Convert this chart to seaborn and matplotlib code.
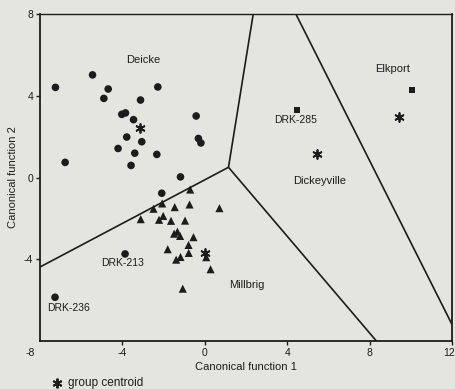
import matplotlib
matplotlib.use("Agg")
import matplotlib.pyplot as plt
from matplotlib.lines import Line2D
from matplotlib.transforms import ScaledTranslation
import numpy as np
import pandas as pd
import seaborn as sns

# Canonical discriminant scores of the samples
deicke_x = [-7.25, -5.45, -4.69, -4.90, -3.12, -2.28, -3.85, -4.03, -3.46, -0.42,
            -0.31, -0.19, -3.79, -3.06, -4.21, -3.40, -2.33, -6.78, -3.58, -1.18,
            -2.09, -3.87, -7.27]
deicke_y = [4.41, 5.02, 4.33, 3.87, 3.79, 4.43, 3.16, 3.09, 2.83, 3.01,
            1.91, 1.69, 1.98, 1.75, 1.42, 1.19, 1.13, 0.74, 0.59, 0.03,
            -0.77, -3.74, -5.86]

millbrig_x = [-0.71, -2.07, -2.49, -1.46, -0.74, 0.71, -3.11, -2.02, -2.22, -1.64,
              -0.96, -1.49, -1.33, -1.20, -0.55, -0.79, -1.80, -0.78, -1.18, -1.39,
              0.28, -1.07, 0.07]
millbrig_y = [-0.59, -1.27, -1.53, -1.45, -1.32, -1.50, -2.04, -1.88, -2.07, -2.12,
              -2.11, -2.75, -2.65, -2.86, -2.92, -3.30, -3.51, -3.69, -3.89, -4.02,
              -4.49, -5.44, -3.90]

square_x = [4.47, 10.06]
square_y = [3.32, 4.27]

# Group centroids: Deicke, Millbrig, Dickeyville, Elkport
centroid_x = [-3.16, 0.0, 5.47, 9.43]
centroid_y = [2.44, -3.71, 1.13, 2.98]

# Territorial map boundaries (start, end)
boundary_x = [[-8.0, 1.15], [1.15, 2.35], [1.15, 8.33], [4.42, 12.0]]
boundary_y = [[-4.38, 0.50], [0.50, 8.0], [0.50, -8.0], [8.0, -7.19]]

group_labels = ["Deicke", "Elkport", "Dickeyville", "Millbrig"]
group_label_x = [-3.0, 9.1, 5.58, 2.05]
group_label_y = [5.75, 5.3, -0.18, -5.26]

sample_labels = ["DRK-285", "DRK-213", "DRK-236"]
sample_label_x = [4.42, -3.97, -6.63]
sample_label_y = [2.83, -4.2, -6.4]

x_ticks = [-8, -4, 0, 4, 8, 12]
y_ticks = [-4, 0, 4, 8]

bg = "#e4e5df"
ink = "#1c1c1c"

sns.set_theme(style="ticks")
plt.rcParams["font.family"] = ["Liberation Sans", "DejaVu Sans"]

fig = plt.figure(figsize=(4.56, 3.89), dpi=100, facecolor=bg)
ax = fig.add_axes([40 / 456, 1 - 341 / 389, 412 / 456, 327 / 389])
ax.set_facecolor(bg)

for bx, by in zip(boundary_x, boundary_y):
    ax.plot(bx, by, color=ink, lw=1.2, solid_capstyle="butt", zorder=1)

deicke = pd.DataFrame({"x": deicke_x, "y": deicke_y})
millbrig = pd.DataFrame({"x": millbrig_x, "y": millbrig_y})
squares = pd.DataFrame({"x": square_x, "y": square_y})
centroids = pd.DataFrame({"x": centroid_x, "y": centroid_y})

sns.scatterplot(data=deicke, x="x", y="y", marker="o", s=30, color=ink,
                edgecolor="none", ax=ax, zorder=3)
sns.scatterplot(data=millbrig, x="x", y="y", marker="^", s=34, color=ink,
                edgecolor="none", ax=ax, zorder=3)
sns.scatterplot(data=squares, x="x", y="y", marker="s", s=20, color=ink,
                edgecolor="none", ax=ax, zorder=3)
sns.scatterplot(data=centroids, x="x", y="y", marker=(6, 2, 0), s=40, color=ink,
                linewidth=1.3, ax=ax, zorder=4)

for t, tx, ty in zip(group_labels, group_label_x, group_label_y):
    ax.text(tx, ty, t, ha="center", va="center", fontsize=8, color=ink)
for t, tx, ty in zip(sample_labels, sample_label_x, sample_label_y):
    ax.text(tx, ty, t, ha="center", va="center", fontsize=7.5, color=ink)

ax.set_xlim(-8, 12)
ax.set_ylim(-8, 8)
ax.set_xticks(x_ticks)
ax.set_yticks(y_ticks)
ax.set_xticklabels([str(v) for v in x_ticks])
ax.set_yticklabels([str(v) for v in y_ticks])
ax.tick_params(direction="out", length=3, width=1, color=ink, labelcolor=ink,
               labelsize=7.5, pad=2)
ax.xaxis.get_major_ticks()[0].tick1line.set_visible(False)

# nudge the outermost x labels so they sit like the printed axis
xlabels = ax.get_xticklabels()
xlabels[0].set_transform(xlabels[0].get_transform()
                         + ScaledTranslation(-10 / 100, 0, fig.dpi_scale_trans))
xlabels[-1].set_transform(xlabels[-1].get_transform()
                          + ScaledTranslation(-3 / 100, 0, fig.dpi_scale_trans))

for sp in ax.spines.values():
    sp.set_visible(True)
    sp.set_color(ink)
ax.spines["left"].set_linewidth(1.3)
ax.spines["bottom"].set_linewidth(1.3)
ax.spines["top"].set_linewidth(1.0)
ax.spines["right"].set_linewidth(1.3)

ax.set_xlabel("Canonical function 1", fontsize=8, color=ink, labelpad=3)
ax.set_ylabel("Canonical function 2", fontsize=8, color=ink)
ax.yaxis.set_label_coords(-(40 - 18) / 412, 0.5)

fig.add_artist(Line2D([57 / 456], [1 - 383 / 389], marker=(6, 2, 0), markersize=7,
                      markeredgewidth=1.4, color=ink, transform=fig.transFigure))
fig.text(68 / 456, 1 - 383 / 389, "group centroid", fontsize=8.5, color=ink,
         ha="left", va="center")

fig.savefig("out.png", dpi=100, facecolor=bg)
